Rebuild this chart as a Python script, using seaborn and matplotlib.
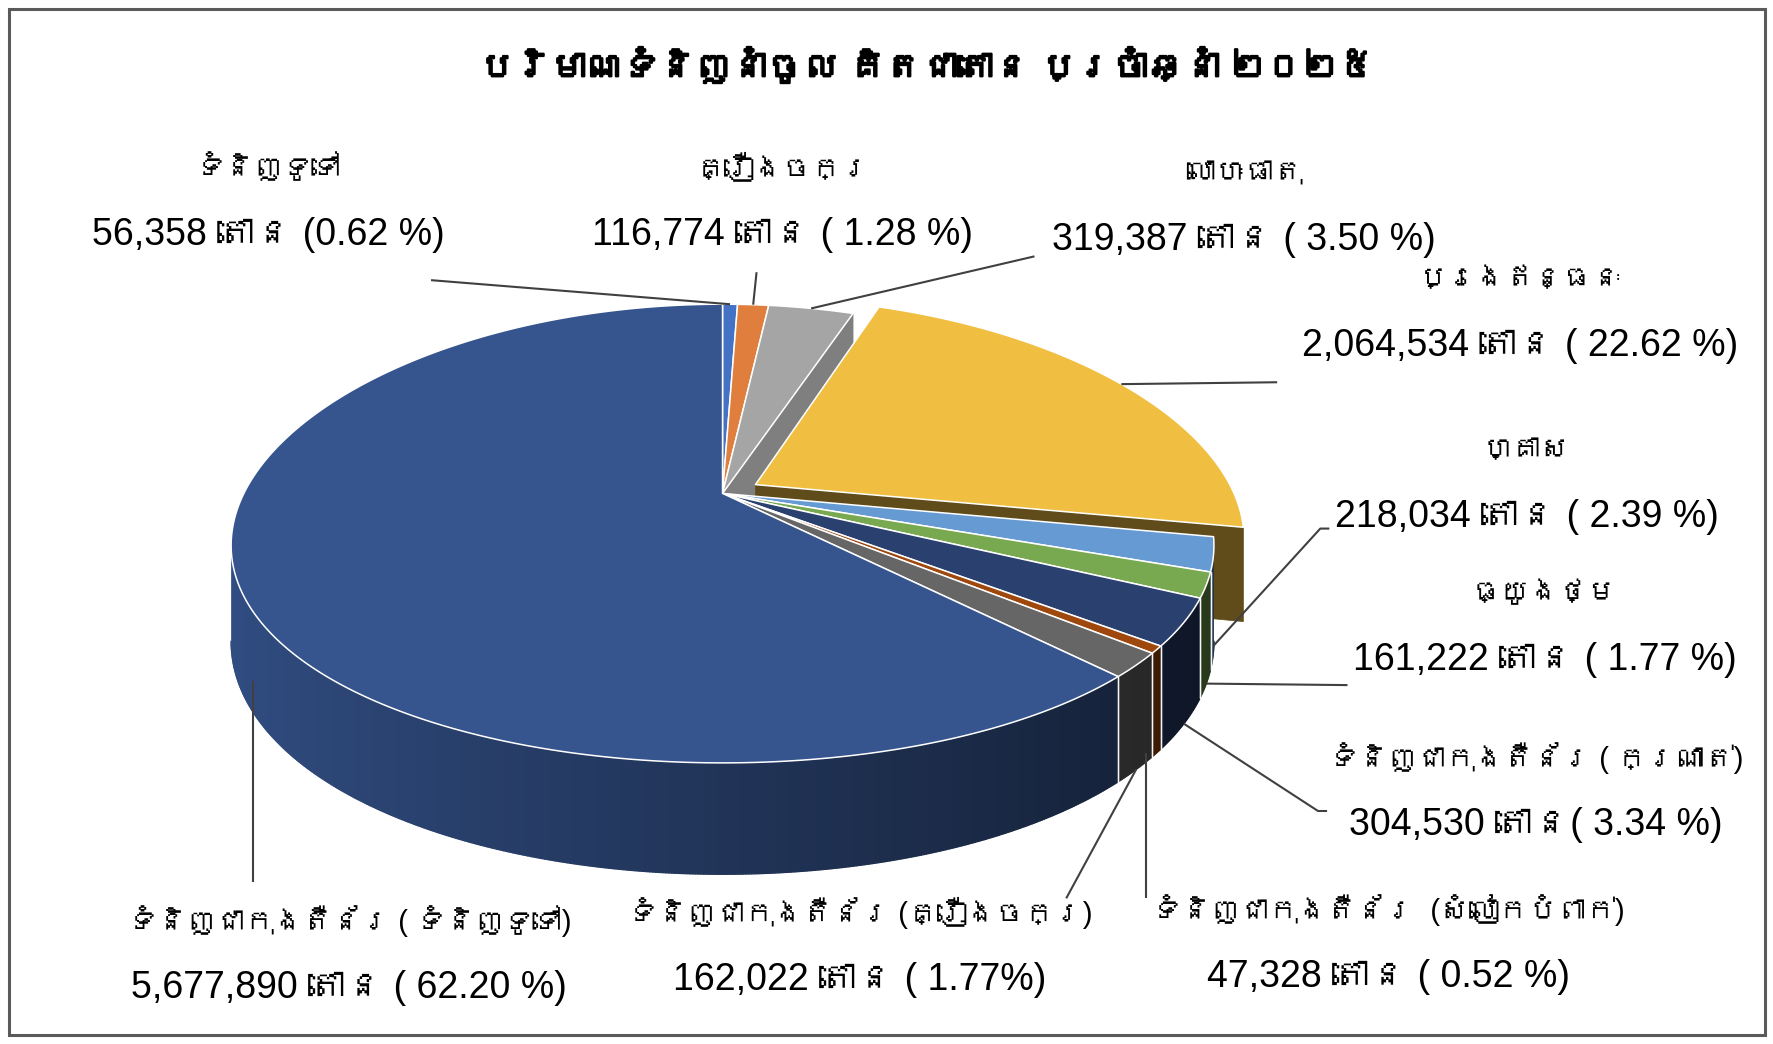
import numpy as np
import matplotlib
matplotlib.use("Agg")
import matplotlib.pyplot as plt
import seaborn as sns
from matplotlib import font_manager as fm
from matplotlib import patheffects as pe
from matplotlib.patches import Polygon, Rectangle
from matplotlib.colors import to_rgb

# ---------------- data ----------------
title = "បរិមាណទំនិញនាំចូល គិតជាតោន ប្រចាំឆ្នាំ ២០២៥"
categories = [
    "ទំនិញទូទៅ",
    "គ្រឿងចក្រ",
    "លោហៈធាតុ",
    "ប្រេងឥន្ធនៈ",
    "ហ្គាស",
    "ធ្យូងថ្ម",
    "ទំនិញជាកុងតឺន័រ ( ក្រណាត់)",
    "ទំនិញជាកុងតឺន័រ  (សំលៀកបំពាក់)",
    "ទំនិញជាកុងតឺន័រ (គ្រឿងចក្រ)",
    "ទំនិញជាកុងតឺន័រ ( ទំនិញទូទៅ)",
]
tons = [56358, 116774, 319387, 2064534, 218034, 161222, 304530, 47328, 162022, 5677890]
value_labels = [
    "56,358 តោន (0.62 %)",
    "116,774 តោន ( 1.28 %)",
    "319,387 តោន ( 3.50 %)",
    "2,064,534 តោន ( 22.62 %)",
    "218,034 តោន ( 2.39 %)",
    "161,222 តោន ( 1.77 %)",
    "304,530 តោន( 3.34 %)",
    "47,328 តោន ( 0.52 %)",
    "162,022 តោន ( 1.77%)",
    "5,677,890 តោន ( 62.20 %)",
]
explode = [0, 0, 0, 0.08, 0, 0, 0, 0, 0, 0]

# ---------------- style ----------------
colors = ["#4472C4", "#E07F3D", "#A5A5A5", "#F0BF41", "#659AD2",
          "#78A850", "#2A4170", "#9E480E", "#666666", "#36558F"]

sns.set_theme(style="white")


def find_khmer_font():
    try:
        from fontTools.ttLib import TTFont
    except Exception:
        return None
    names = []
    for path in sorted(fm.findSystemFonts()):
        try:
            f = TTFont(path, fontNumber=0, lazy=True)
            cmap = f.getBestCmap()
            if cmap and 0x1780 in cmap and 0x17B6 in cmap:
                fm.fontManager.addfont(path)
                names.append(fm.FontProperties(fname=path).get_name())
        except Exception:
            continue
    return names[0] if names else None


khmer = find_khmer_font()
fams = ["Liberation Sans"] + ([khmer] if khmer else []) + ["DejaVu Sans"]
plt.rcParams["font.family"] = fams

W, H = 1564.0, 1564.0 * 1044 / 1774
fig = plt.figure(figsize=(17.74, 10.44), dpi=100)
ax = fig.add_axes([0, 0, 1, 1])
ax.axis("off")

# ---------------- 3D pie geometry (layout) ----------------
CX, CY, RX, RY, K, DZ, ALPHA = 637.0, 435.0, 422.0, 196.0, 0.175, 81.0, 1.3


def proj(u, v, w):
    p = 1.0 / (1.0 + K * v)
    return CX + RX * u * p ** ALPHA, CY - RY * v * p + DZ * w * p


def shade(c, s):
    r, g, b = to_rgb(c)
    s = np.clip(s, 0.0, 1.0)
    return np.stack([r * s, g * s, b * s], axis=-1)


def wall_shade(theta_deg):
    return 0.62 - 0.3 * np.cos(np.radians(theta_deg))


vals = np.array(tons, dtype=float)
frac = vals / vals.sum()
cum = np.concatenate([[0], np.cumsum(frac)])
a_start = 90 - 360 * cum[:-1]
a_end = 90 - 360 * cum[1:]
mid = (a_start + a_end) / 2
offs = [(e * np.cos(np.radians(m)), e * np.sin(np.radians(m))) for e, m in zip(explode, mid)]

# silhouette of the rim (extreme screen x on the front side)
_t = np.linspace(-180, 0, 3601)
_x = np.array([proj(np.cos(np.radians(a)), np.sin(np.radians(a)), 0)[0] for a in _t])
vis_lo = _t[np.argmin(_x)]
vis_hi = _t[np.argmax(_x)]

# 1) radial faces
for i in range(len(tons)):
    ou, ov = offs[i]
    for ang, nang in ((a_start[i], a_start[i] + 90), (a_end[i], a_end[i] - 90)):
        if np.sin(np.radians(nang)) >= -1e-6:
            continue
        t = np.radians(ang)
        pts = [proj(ou, ov, 0), proj(ou + np.cos(t), ov + np.sin(t), 0),
               proj(ou + np.cos(t), ov + np.sin(t), 1), proj(ou, ov, 1)]
        s = max(0.96 + 0.57 * np.sin(np.radians(nang)), 0.38)
        c = tuple(shade(colors[i], s))
        ax.add_patch(Polygon(pts, closed=True, facecolor=c, edgecolor=c, lw=0.5, zorder=1))

# 2) outer walls with a smooth light gradient
for i in range(len(tons)):
    ou, ov = offs[i]
    lo = max(a_end[i], vis_lo)
    hi = min(a_start[i], vis_hi)
    if hi <= lo:
        continue
    n = max(3, int((hi - lo) / 0.25) + 2)
    th = np.linspace(lo, hi, n)
    top = [proj(ou + np.cos(np.radians(t)), ov + np.sin(np.radians(t)), 0) for t in th]
    bot = [proj(ou + np.cos(np.radians(t)), ov + np.sin(np.radians(t)), 1) for t in th]
    poly = top + bot[::-1]
    xs = np.array([p[0] for p in top])
    ys = np.array([p[1] for p in poly])
    xmin, xmax = xs.min() - 1, xs.max() + 1
    ncol = max(2, int((xmax - xmin) * 2))
    cols = np.linspace(xmin, xmax, ncol)
    thc = np.interp(cols, xs, th)
    img = shade(colors[i], wall_shade(thc))[None, :, :]
    clip = Polygon(poly, closed=True, facecolor="none", edgecolor="none", transform=ax.transData)
    ax.add_patch(clip)
    im = ax.imshow(img, extent=(xmin, xmax, ys.max() + 1, ys.min() - 1), aspect="auto",
                   interpolation="bilinear", zorder=2)
    im.set_clip_path(clip)
    bx = [p[0] for p in bot]
    by = [p[1] for p in bot]
    for j in range(0, len(bx) - 1):
        cc = tuple(shade(colors[i], wall_shade((th[j] + th[j + 1]) / 2)))
        ax.plot(bx[j:j + 2], by[j:j + 2], color=cc, lw=1.0, zorder=2.1, solid_capstyle="round")
    for t in (hi, lo):
        if t in (vis_lo, vis_hi):
            continue
        r = np.radians(t)
        x0, y0 = proj(ou + np.cos(r), ov + np.sin(r), 0)
        x1, y1 = proj(ou + np.cos(r), ov + np.sin(r), 1)
        ax.plot([x0, x1], [y0, y1], color="white", lw=1.0, alpha=0.8, zorder=3)

# 3) top faces
for i in range(len(tons)):
    ou, ov = offs[i]
    n = max(3, int(abs(a_start[i] - a_end[i]) / 0.5) + 2)
    th = np.radians(np.linspace(a_start[i], a_end[i], n))
    pts = [proj(ou, ov, 0)] + [proj(ou + np.cos(t), ov + np.sin(t), 0) for t in th]
    ax.add_patch(Polygon(pts, closed=True, facecolor=colors[i], edgecolor="white",
                         lw=1.1, joinstyle="round", zorder=4))

# ---------------- labels & leaders (layout) ----------------
label_xy = [(237, 148), (690, 148), (1097, 153), (1340, 246), (1346, 397),
            (1362, 523), (1354, 668), (1224, 802), (758, 805), (308, 812)]
line_gap = 59
leader_from = [[(380, 247)], [(667, 240)], [(912, 226)], [(1126, 337)],
               [(1172, 466), (1164, 466)], [(1188, 604)], [(1170, 715), (1162, 715)],
               [(1010, 792)], [(940, 792)], [(223, 778)]]
leader_w = [0, 0, 0, 0, 0.95, 1.0, 1.0, 1.0, 1.0, 1.0]

for i in range(len(tons)):
    ou, ov = offs[i]
    r = np.radians(mid[i])
    ex, ey = proj(ou + np.cos(r), ov + np.sin(r), leader_w[i])
    pts = leader_from[i]
    if i in (7, 9):
        ex = pts[0][0]
    xs = [p[0] for p in pts] + [ex]
    ys = [p[1] for p in pts] + [ey]
    ax.plot(xs, ys, color="#404040", lw=1.5, zorder=5, solid_capstyle="butt")

for i in range(len(tons)):
    x, y = label_xy[i]
    ax.text(x, y, categories[i], ha="center", va="center", fontsize=21, color="black", zorder=6)
    ax.text(x, y + line_gap, value_labels[i], ha="center", va="center", fontsize=27,
            color="black", zorder=6)

ax.text(817, 60, title, ha="center", va="center", fontsize=26, fontweight="bold",
        color="black", zorder=6,
        path_effects=[pe.withStroke(linewidth=1.6, foreground="black")])

ax.add_patch(Rectangle((8, 8), W - 16, H - 16, fill=False, edgecolor="#5a5a5a", lw=2.2, zorder=7))

ax.set_xlim(0, W)
ax.set_ylim(H, 0)
ax.set_aspect("auto")

fig.savefig("out.png", dpi=100, facecolor="white")
